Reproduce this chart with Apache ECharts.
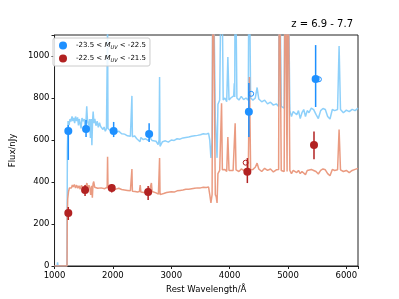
<!DOCTYPE html>
<html><head><meta charset="utf-8">
<script src="https://cdn.jsdelivr.net/npm/echarts@6/dist/echarts.min.js"></script>
<style>html,body{margin:0;padding:0;background:#fff}#c{width:399px;height:299px}</style>
</head><body><div id="c"></div>
<script>
const xTicks = [1000, 2000, 3000, 4000, 5000, 6000];
const yTicks = [0, 200, 400, 600, 800, 1000];
const legendNames = ['-23.5 < M_UV < -22.5', '-22.5 < M_UV < -21.5'];

const blueSpectrum = [[1000,0],[1045,0],[1052,18],[1060,0],[1213,0],[1220,560],[1232,690],[1250,672],[1265,700],[1280,688],[1300,712],[1315,690],[1330,705],[1345,680],[1360,712],[1378,690],[1395,708],[1410,670],[1425,700],[1440,692],[1455,655],[1470,705],[1490,690],[1510,700],[1525,640],[1540,695],[1552,760],[1565,688],[1585,670],[1600,700],[1615,610],[1628,700],[1640,575],[1652,690],[1662,735],[1675,680],[1690,700],[1710,668],[1730,690],[1750,660],[1770,682],[1790,664],[1810,672],[1830,650],[1850,662],[1870,642],[1890,655],[1902,660],[1909,1150],[1916,655],[1935,660],[1955,645],[1980,652],[2000,640],[2030,648],[2060,636],[2100,642],[2150,630],[2200,628],[2250,620],[2300,618],[2318,615],[2326,810],[2334,615],[2370,620],[2410,606],[2440,612],[2465,592],[2480,612],[2520,602],[2560,606],[2600,598],[2640,610],[2670,598],[2700,604],[2740,594],[2775,578],[2792,600],[2800,900],[2808,570],[2825,575],[2850,592],[2900,596],[2950,590],[3000,600],[3050,598],[3100,606],[3150,604],[3200,610],[3250,612],[3300,614],[3350,618],[3400,620],[3450,622],[3500,625],[3550,630],[3600,628],[3640,632],[3660,600],[3680,515],[3700,600],[3715,1600],[3735,1600],[3755,700],[3770,600],[3785,515],[3800,770],[3830,790],[3850,782],[3862,1600],[3876,1600],[3890,790],[3920,800],[3950,782],[3970,995],[3990,790],[4020,800],[4050,792],[4070,810],[4080,870],[4088,805],[4095,1600],[4110,1600],[4125,800],[4160,790],[4200,808],[4240,792],[4280,800],[4320,790],[4333,1600],[4347,1600],[4360,800],[4400,790],[4440,800],[4471,850],[4500,795],[4550,782],[4600,790],[4650,772],[4700,780],[4750,766],[4800,772],[4840,760],[4852,1600],[4870,1600],[4885,760],[4935,752],[4950,1600],[4968,1600],[4985,752],[4998,1600],[5016,1600],[5032,740],[5060,712],[5090,736],[5120,745],[5150,720],[5180,740],[5210,702],[5240,730],[5270,745],[5300,712],[5330,740],[5360,730],[5400,752],[5440,745],[5480,722],[5520,702],[5560,740],[5600,750],[5640,745],[5680,712],[5720,700],[5760,745],[5800,740],[5850,745],[5876,1048],[5900,745],[5950,730],[6000,742],[6050,735],[6100,746],[6150,740],[6200,752]];

const redSpectrum = [[1000,0],[1214,0],[1218,220],[1226,320],[1240,355],[1255,372],[1270,380],[1290,372],[1305,386],[1320,376],[1340,388],[1360,372],[1380,385],[1400,370],[1420,382],[1440,366],[1460,384],[1480,374],[1500,382],[1520,360],[1540,380],[1555,395],[1570,370],[1590,384],[1605,372],[1620,338],[1635,382],[1648,325],[1660,392],[1672,402],[1688,375],[1710,382],[1740,370],[1770,378],[1800,372],[1830,380],[1860,368],[1890,372],[1902,375],[1909,520],[1916,372],[1950,376],[1980,368],[2010,372],[2050,366],[2100,370],[2150,364],[2200,362],[2250,360],[2300,358],[2318,358],[2326,462],[2334,356],[2380,355],[2420,352],[2455,355],[2468,385],[2480,352],[2530,350],[2570,352],[2620,355],[2648,360],[2660,395],[2672,355],[2700,350],[2740,348],[2780,342],[2792,345],[2800,514],[2808,340],[2830,338],[2870,345],[2920,350],[3000,354],[3050,352],[3100,358],[3150,360],[3200,362],[3250,365],[3300,366],[3350,368],[3400,370],[3450,372],[3500,372],[3550,375],[3600,374],[3640,376],[3660,340],[3680,300],[3700,340],[3715,1600],[3735,1600],[3755,340],[3770,330],[3785,300],[3800,440],[3830,455],[3850,450],[3862,775],[3876,458],[3920,460],[3950,450],[3970,614],[3990,455],[4020,460],[4060,455],[4095,680],[4110,458],[4160,450],[4200,462],[4240,455],[4280,460],[4320,455],[4340,900],[4360,458],[4400,460],[4440,470],[4471,490],[4500,462],[4550,450],[4600,465],[4650,455],[4700,462],[4750,448],[4800,458],[4840,460],[4852,1600],[4870,1600],[4885,455],[4935,450],[4950,1600],[4968,1600],[4985,450],[4998,1600],[5016,1600],[5032,455],[5060,440],[5090,455],[5120,460],[5150,445],[5180,455],[5210,440],[5240,450],[5270,455],[5300,435],[5330,455],[5360,450],[5400,460],[5440,455],[5480,450],[5520,438],[5560,455],[5600,462],[5640,458],[5680,440],[5720,430],[5760,460],[5800,455],[5850,458],[5876,650],[5900,458],[5950,450],[6000,455],[6050,445],[6100,455],[6150,460],[6200,465]];

// photometric points: wavelength, flux, lower, upper
const blueWave = [1236, 1540, 2013, 2621, 4330, 5474];
const blueFlux = [643, 652, 643, 629, 735, 890];
const blueLow  = [505, 614, 614, 590, 614, 757];
const blueHigh = [671, 695, 686, 680, 872, 1052];
const blueOpen = [[4370, 820], [5530, 889]];

const redWave = [1236, 1523, 1980, 2604, 4304, 5446];
const redFlux = [252, 362, 371, 352, 449, 576];
const redLow  = [219, 333, 350, 314, 395, 508];
const redHigh = [281, 386, 390, 381, 514, 640];
const redOpen = [[4275, 492]];

const BLUE_LINE = '#87CEFA', RED_LINE = '#E9967A';
const BLUE_PT = '#1E90FF', RED_PT = '#B22222';
const FONT = 'DejaVu Sans';

function errSeries(wave, lo, hi, color) {
  return {
    type: 'custom', silent: true, z: 5,
    data: wave.map((w, i) => [w, lo[i], hi[i]]),
    encode: { x: 0, y: [1, 2] },
    renderItem: function (params, api) {
      const a = api.coord([api.value(0), api.value(1)]);
      const b = api.coord([api.value(0), api.value(2)]);
      return { type: 'line', shape: { x1: a[0], y1: a[1], x2: b[0], y2: b[1] },
               style: { stroke: color, lineWidth: 1.5 } };
    }
  };
}

const chart = echarts.init(document.getElementById('c'), null, { renderer: 'canvas' });
chart.setOption({
  animation: false,
  backgroundColor: '#fff',
  textStyle: { fontFamily: FONT },
  title: { text: 'z = 6.9 - 7.7', right: 41, top: 14,
           textStyle: { fontFamily: FONT, fontSize: 10, fontWeight: 'normal', color: '#000' } },
  grid: { left: 50, right: 41, top: 35, bottom: 33, show: true, borderColor: '#222', borderWidth: 1, backgroundColor: 'transparent' },
  legend: {
    left: 53, top: 38, orient: 'vertical', itemGap: 4, itemWidth: 8, itemHeight: 8,
    padding: [3, 4, 3, 6], backgroundColor: 'rgba(255,255,255,0.85)', borderColor: '#ccc', borderWidth: 1, borderRadius: 2,
    data: legendNames.map(n => ({ name: n, icon: 'circle' })),
    formatter: function (n) {
      const parts = n.split('M_UV');
      return '{t|' + parts[0] + '}{m|M}{s|UV}{t|' + parts[1] + '}';
    },
    textStyle: { fontFamily: FONT, fontSize: 7, color: '#000', padding: [0, 0, 0, 4],
      rich: {
        t: { fontFamily: FONT, fontSize: 7, color: '#000', lineHeight: 10 },
        m: { fontFamily: FONT, fontSize: 7, fontStyle: 'italic', color: '#000', lineHeight: 10 },
        s: { fontFamily: FONT, fontSize: 5, fontStyle: 'italic', color: '#000', lineHeight: 10, padding: [4, 0, 0, 0] }
      } }
  },
  xAxis: {
    type: 'value', min: 1000, max: 6200, interval: 1000,
    name: 'Rest Wavelength/Å', nameLocation: 'middle', nameGap: 17,
    nameTextStyle: { fontFamily: FONT, fontSize: 8.5, color: '#000' },
    axisLine: { show: true, lineStyle: { color: '#222', width: 1 } },
    axisTick: { show: true, length: 3, lineStyle: { color: '#222' } },
    axisLabel: { margin: 5, fontFamily: FONT, fontSize: 8.5, color: '#000',
                 formatter: v => xTicks.includes(v) ? String(v) : '' },
    splitLine: { show: false }
  },
  yAxis: {
    type: 'value', min: 0, max: 1100, interval: 200,
    name: 'Flux/nJy', nameLocation: 'middle', nameGap: 29,
    nameTextStyle: { fontFamily: FONT, fontSize: 8.5, color: '#000' },
    axisLine: { show: true, lineStyle: { color: '#222', width: 1 } },
    axisTick: { show: true, length: 3, lineStyle: { color: '#222' } },
    axisLabel: { margin: 5, fontFamily: FONT, fontSize: 8.5, color: '#000',
                 formatter: v => yTicks.includes(v) ? String(v) : '' },
    splitLine: { show: false }
  },
  series: [
    { type: 'line', data: blueSpectrum, showSymbol: false, silent: true, z: 1, clip: true,
      lineStyle: { color: BLUE_LINE, width: 1.5, opacity: 0.95 } },
    { type: 'line', data: redSpectrum, showSymbol: false, silent: true, z: 2, clip: true,
      lineStyle: { color: RED_LINE, width: 1.5, opacity: 0.95 } },
    errSeries(blueWave, blueLow, blueHigh, BLUE_PT),
    errSeries(redWave, redLow, redHigh, RED_PT),
    { type: 'scatter', name: 'bopen', data: blueOpen, symbol: 'circle', symbolSize: 5, z: 6,
      itemStyle: { color: 'rgba(255,255,255,0)', borderColor: BLUE_PT, borderWidth: 1, opacity: 1 } },
    { type: 'scatter', name: 'ropen', data: redOpen, symbol: 'circle', symbolSize: 5, z: 6,
      itemStyle: { color: 'rgba(255,255,255,0)', borderColor: RED_PT, borderWidth: 1, opacity: 1 } },
    { type: 'scatter', name: legendNames[0], data: blueWave.map((w, i) => [w, blueFlux[i]]),
      symbol: 'circle', symbolSize: 8, z: 7, itemStyle: { color: BLUE_PT, opacity: 1 } },
    { type: 'scatter', name: legendNames[1], data: redWave.map((w, i) => [w, redFlux[i]]),
      symbol: 'circle', symbolSize: 8, z: 7, itemStyle: { color: RED_PT, opacity: 1 } }
  ]
});
</script></body></html>
